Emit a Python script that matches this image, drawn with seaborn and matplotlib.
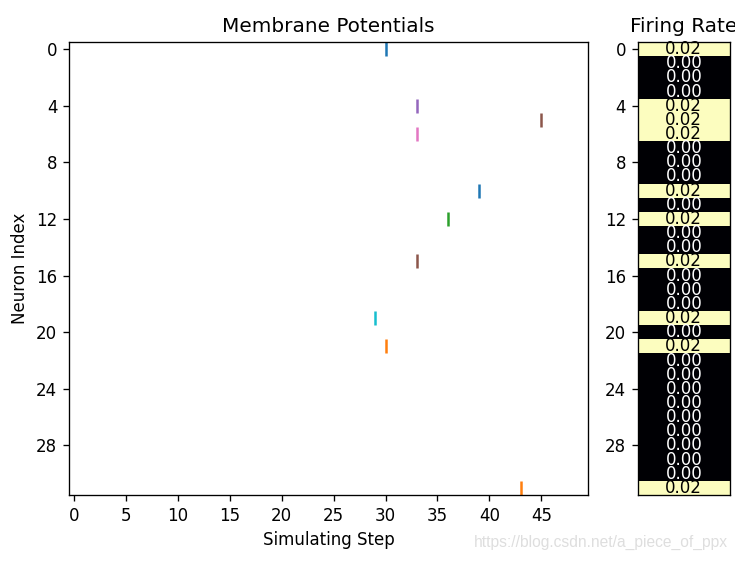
import matplotlib
matplotlib.use('Agg')
import matplotlib.pyplot as plt
import seaborn as sns
import numpy as np
import pandas as pd

# spikes: (neuron, step)
spike_neurons = [0, 4, 5, 6, 10, 12, 15, 19, 21, 31]
spike_steps = [30, 33, 45, 33, 39, 36, 33, 29, 30, 43]

n_neurons = 32
n_steps = 50

firing_rate = [0.02, 0.00, 0.00, 0.00, 0.02, 0.02, 0.02, 0.00,
               0.00, 0.00, 0.02, 0.00, 0.02, 0.00, 0.00, 0.02,
               0.00, 0.00, 0.00, 0.02, 0.00, 0.02, 0.00, 0.00,
               0.00, 0.00, 0.00, 0.00, 0.00, 0.00, 0.00, 0.02]

fig = plt.figure(figsize=(735 / 120, 562 / 120), dpi=120)
ax1 = fig.add_axes([0.0939, 0.1192, 0.7061, 0.8061])
ax2 = fig.add_axes([0.8677, 0.1192, 0.1252, 0.8061])

# Raster of spikes, one row per neuron
positions = [[] for _ in range(n_neurons)]
for n, s in zip(spike_neurons, spike_steps):
    positions[n].append(s)
palette = sns.color_palette('tab10', 10)
colors = [palette[i % 10] for i in range(n_neurons)]
ax1.eventplot(positions, lineoffsets=np.arange(n_neurons), linelengths=1,
              colors=colors, linewidths=1.5)
ax1.set_xlim(-0.5, n_steps - 0.5)
ax1.set_ylim(n_neurons - 0.5, -0.5)
ax1.set_xticks(np.arange(0, n_steps, 5))
ax1.set_yticks(np.arange(0, n_neurons, 4))
ax1.set_title('Membrane Potentials')
ax1.set_xlabel('Simulating Step')
ax1.set_ylabel('Neuron Index')

# Firing rate heatmap
rate_df = pd.DataFrame({'rate': firing_rate})
sns.heatmap(rate_df, ax=ax2, cmap='magma', cbar=False, annot=True, fmt='.2f',
            annot_kws={'fontsize': 10}, xticklabels=False, yticklabels=False)
for t in ax2.texts:
    if t.get_text() != '0.00':
        t.set_color('black')
ax2.set_yticks(np.arange(0, n_neurons, 4) + 0.5)
ax2.set_yticklabels([str(i) for i in range(0, n_neurons, 4)], rotation=0)
ax2.tick_params(axis='y', left=True, length=3.5)
ax2.set_ylim(n_neurons, 0)
for sp in ax2.spines.values():
    sp.set_visible(True)
    sp.set_linewidth(0.8)
    sp.set_color('black')
ax2.set_title('Firing Rate')
ax2.set_xlabel('')

fig.text(0.99, 0.034, 'https://blog.csdn.net/a_piece_of_ppx', ha='right', va='center',
         fontsize=9.4, color='#dedede', family='Liberation Sans')

fig.savefig('out.png', dpi=120)
